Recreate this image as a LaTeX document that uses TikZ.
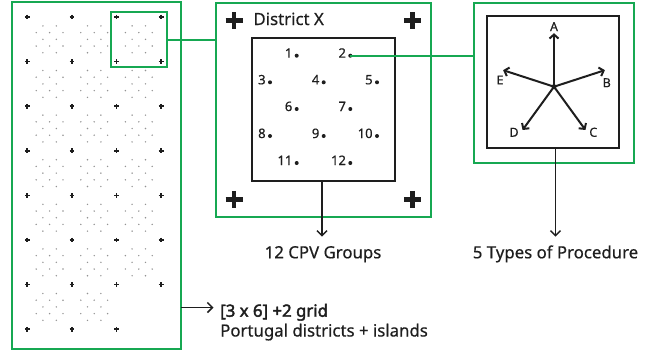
\documentclass[tikz,border=0pt]{standalone}
\usepackage{fontspec}
\setmainfont{Noto Sans}[FakeBold=0.5]
\newfontfamily\nbold{Noto Sans}[FakeBold=2.4]
\usetikzlibrary{arrows.meta}
\definecolor{gr}{RGB}{22,168,82}
\definecolor{ink}{RGB}{30,30,30}
\begin{document}
\begin{tikzpicture}[x=1pt,y=-1pt,
  gbox/.style={draw=gr,line width=2pt,inner sep=0,outer sep=0},
  kbox/.style={draw=ink,line width=1.8pt,inner sep=0,outer sep=0},
  gline/.style={draw=gr,line width=2pt},
  lbl/.style={font=\fontsize{16.8}{19}\selectfont,text=ink,inner sep=0},
  num/.style={font=\fontsize{13}{15}\selectfont,text=ink,inner sep=0,anchor=base east},
  pl/.style={font=\fontsize{12.5}{14}\selectfont,text=ink,inner sep=0},
  pt/.style={circle,fill=ink,inner sep=0,minimum size=4pt},
  gdot/.style={circle,fill=gray!85,inner sep=0,minimum size=1.6pt},
  arr/.style={draw=ink,line width=1.5pt,-{Straight Barb[length=5pt,width=10pt]}},
  parr/.style={draw=ink,line width=2pt,-{Straight Barb[length=4pt,width=9pt]}},
  bigplus/.pic={\draw[ink,line width=4.6pt] (-8.5,0)--(8.5,0) (0,-8.5)--(0,8.5);},
  smallplus/.pic={\draw[ink,line width=1.7pt] (-2.4,0)--(2.4,0) (0,-2.4)--(0,2.4);}
]
\useasboundingbox (0,0) rectangle (652,351);

% ---------- left grid ----------
\node[gbox,minimum width=169pt,minimum height=347pt] (big) at (96.5,175.5) {};
\foreach \r in {0,...,6}{
  \foreach \c in {0,1,2}{
    \pgfmathtruncatemacro\skipit{(\r==6)&&(\c==2)}
    \ifnum\skipit=0
      \pgfmathsetmacro\cx{49.6+44.6*\c}
      \pgfmathsetmacro\cy{39.3+44.6*\r}
      \foreach \dx/\dy in {-6.7/-13.4,6.7/-13.4,-13.4/-6.7,0/-6.7,13.4/-6.7,-6.7/0,6.7/0,-13.4/6.7,0/6.7,13.4/6.7,-6.7/13.4,6.7/13.4}{
        \node[gdot] at (\cx+\dx,\cy+\dy) {};
      }
    \fi
  }
}
\foreach \j in {0,...,7}{
  \foreach \i in {0,...,3}{
    \pgfmathtruncatemacro\skipit{(\j==7)&&(\i==3)}
    \ifnum\skipit=0
      \pic at (27.3+44.6*\i,17+44.6*\j) {smallplus};
    \fi
  }
}
\node[gbox,minimum width=56pt,minimum height=55pt] (hl) at (139,39.5) {};

% ---------- district box ----------
\node[gbox,minimum width=215pt,minimum height=214.3pt] (dist) at (323.5,109.85) {};
\node[kbox,minimum width=142.7pt,minimum height=142.7pt] (inner) at (323.65,109.65) {};
\pic at (234,20.7) {bigplus};
\pic at (412.7,20.7) {bigplus};
\pic at (234,199.3) {bigplus};
\pic at (412.7,199.3) {bigplus};
\node[lbl,anchor=base west] (dx) at (253.3,25) {District X};

\foreach \n/\x/\y in {1/296.7/55.7,2/350.3/55.7,3/270/82.3,4/323.7/82.3,5/377/82.3,
  6/296.7/109,7/350.3/109,8/270/136,9/323.7/136,10/377/136,11/296.7/163,12/350.3/163}{
  \node[pt] (d\n) at (\x,\y) {};
  \node[num] (n\n) at (\x-4.2,\y+2) {\n};
}

% ---------- procedure box ----------
\node[gbox,minimum width=160.3pt,minimum height=159.7pt] (rg) at (554.15,82.85) {};
\node[kbox,minimum width=132pt,minimum height=132.6pt] (ri) at (553.3,82) {};
\node[circle,fill=ink,inner sep=0,minimum size=5pt] (pc) at (554,86.7) {};
\path (pc.center) ++(-90:53.5) coordinate (tA);
\path (pc.center) ++(-18:53.5) coordinate (tB);
\path (pc.center) ++(54:53.5) coordinate (tC);
\path (pc.center) ++(126:53.5) coordinate (tD);
\path (pc.center) ++(198:53.5) coordinate (tE);
\foreach \t in {A,B,C,D,E}{\draw[parr] (pc.center) -- (t\t);}
\node[pl] (lA) at (554,26.7) {A};
\node[pl] (lB) at (606.7,82.7) {B};
\node[pl] (lC) at (593.3,132.3) {C};
\node[pl] (lD) at (514,132.3) {D};
\node[pl] (lE) at (500,80) {E};

% ---------- green connectors ----------
\draw[gline] (hl.east) -- (hl.east -| dist.west);
\draw[gline] (d2.center) -- (d2.center -| rg.west);

% ---------- bottom labels ----------
\node[lbl,anchor=base] (cpv) at (323,258.3) {12 CPV Groups};
\node[lbl,anchor=base] (typ) at (555.5,258.3) {5 Types of Procedure};
\coordinate (cpvtip) at (322,236.7);
\coordinate (typtip) at (555.5,236.7);
\draw[arr] (cpvtip |- inner.south) -- (cpvtip);
\draw[arr] (typtip |- ri.south) -- (typtip);

\coordinate (gtip) at (213.5,307.5);
\draw[arr] (big.east |- gtip) -- (gtip);
\node[lbl,anchor=base west] (g1) at (220,316.7) {\nbold [3 x 6] +2 grid};
\node[lbl,anchor=base west] (g2) at (220,336.5) {Portugal districts + islands};
\end{tikzpicture}
\end{document}
